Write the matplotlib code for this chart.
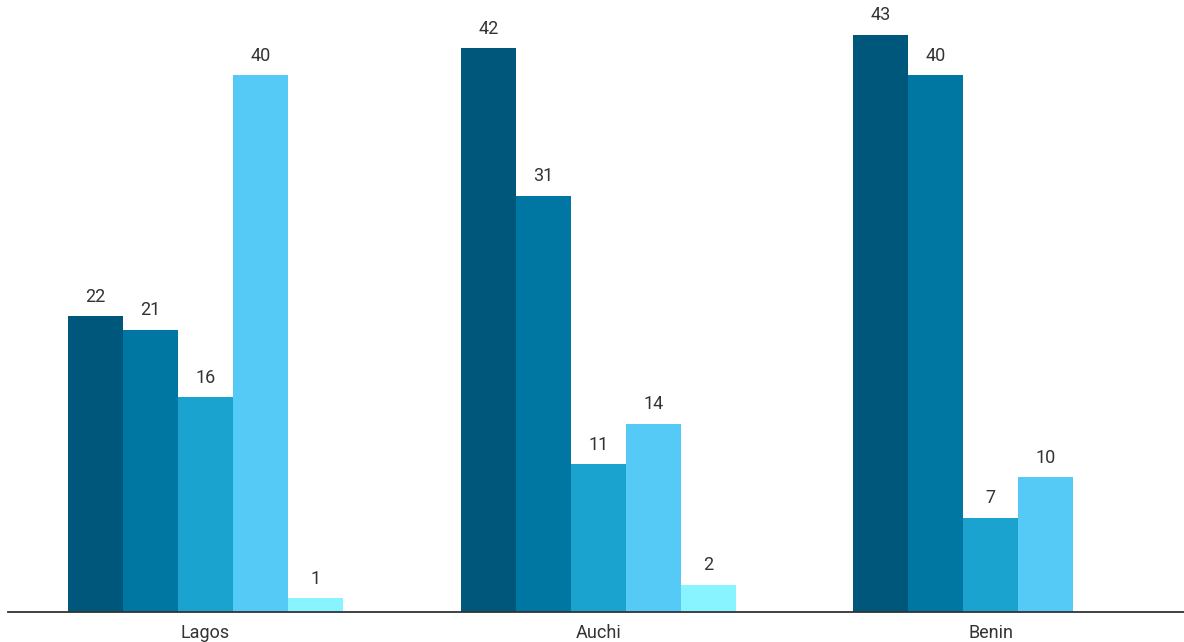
import numpy as np
import matplotlib
matplotlib.use("Agg")
import matplotlib.pyplot as plt

plt.rcParams["font.family"] = ["Roboto", "DejaVu Sans"]

# data
categories = ["Lagos", "Auchi", "Benin"]
series_1 = [22, 42, 43]
series_2 = [21, 31, 40]
series_3 = [16, 11, 7]
series_4 = [40, 14, 10]
series_5 = [1, 2, np.nan]

COLORS = ["#00577c", "#0077a3", "#1ba3d0", "#56caf6", "#88f4ff"]
TXT = "#333333"

fig = plt.figure(figsize=(11.84, 6.42), dpi=100)
ax = fig.add_axes([8 / 1184, 1 - 611.5 / 642, 1176 / 1184, 611.5 / 642])

x = np.arange(len(categories))
w = 0.14
all_series = [series_1, series_2, series_3, series_4, series_5]
n = len(all_series)
for i, (vals, c) in enumerate(zip(all_series, COLORS)):
    pos = x + (i - (n - 1) / 2) * w
    ax.bar(pos, vals, width=w, color=c, linewidth=0, zorder=2)
    for p, v in zip(pos, vals):
        if np.isnan(v):
            continue
        ax.annotate(f"{v:g}", (p, v), xytext=(0, 7.5), textcoords="offset points",
                    ha="center", va="bottom", fontsize=13, color=TXT)

ax.set_xlim(-0.503, 2.492)
ax.set_ylim(0, 45.6)
ax.set_xticks(x)
ax.set_xticklabels(categories, fontsize=13, color=TXT)
ax.tick_params(axis="x", length=0, pad=9)
ax.set_yticks([])
for s in ["top", "right", "left"]:
    ax.spines[s].set_visible(False)
ax.spines["bottom"].set_color(TXT)
ax.spines["bottom"].set_linewidth(1.3)
ax.patch.set_alpha(0)

fig.savefig("out.png", dpi=100, facecolor="white")
